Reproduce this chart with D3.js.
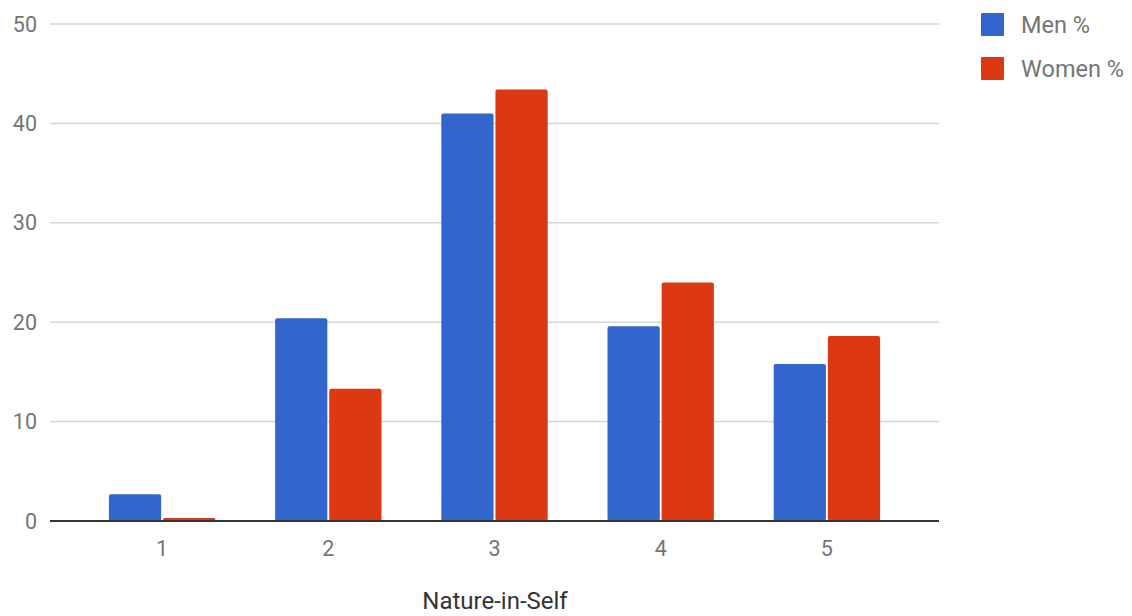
<!DOCTYPE html>
<html>
<head>
<meta charset="utf-8">
<script src="https://cdn.jsdelivr.net/npm/d3@7"></script>
<style>
  html, body { margin: 0; padding: 0; background: #fff; }
  svg { display: block; font-family: Roboto, Arial, sans-serif; }
</style>
</head>
<body>
<svg id="chart" width="1132" height="616"></svg>
<script>
// Nature-in-Self score distribution by gender
const categories = ["1", "2", "3", "4", "5"];
const seriesNames = ["Men %", "Women %"];
const menValues = [2.7, 20.4, 41.0, 19.6, 15.8];
const womenValues = [0.3, 13.3, 43.4, 24.0, 18.6];
const yTicks = [0, 10, 20, 30, 40, 50];
const axisTitle = "Nature-in-Self";
const colors = ["#3366cc", "#dc3912"];

const rows = categories.map((c, i) => ({ cat: c, values: [menValues[i], womenValues[i]] }));

const svg = d3.select("#chart");

const plotLeft = 50, plotRight = 939, plotTop = 24, plotBottom = 521;

const x0 = d3.scaleBand()
  .domain(categories)
  .range([79, 910])
  .paddingInner(0.36)
  .paddingOuter(0.18);

const x1 = d3.scaleBand()
  .domain([0, 1])
  .range([0, x0.bandwidth()])
  .paddingInner(0.035);

const y = d3.scaleLinear().domain([0, 50]).range([plotBottom, plotTop]);

// gridlines
svg.append("g")
  .selectAll("line")
  .data(yTicks.filter(t => t !== 0))
  .join("line")
  .attr("x1", plotLeft).attr("x2", plotRight)
  .attr("y1", d => y(d)).attr("y2", d => y(d))
  .attr("stroke", "#d6d6d6")
  .attr("stroke-width", 1.5);

// y tick labels
svg.append("g")
  .selectAll("text")
  .data(yTicks)
  .join("text")
  .attr("x", 37)
  .attr("y", d => y(d))
  .attr("dy", "0.35em")
  .attr("text-anchor", "end")
  .attr("fill", "#757575")
  .style("font-size", "21.5px")
  .text(d => d);

// bars
const groups = svg.append("g")
  .selectAll("g")
  .data(rows)
  .join("g")
  .attr("transform", d => `translate(${x0(d.cat)},0)`);

groups.selectAll("rect")
  .data(d => d.values.map((v, i) => ({ v, i })))
  .join("rect")
  .attr("x", d => x1(d.i))
  .attr("width", x1.bandwidth())
  .attr("y", d => y(d.v))
  .attr("height", d => y(0) - y(d.v))
  .attr("rx", 2).attr("ry", 2)
  .attr("fill", d => colors[d.i]);

// baseline
svg.append("line")
  .attr("x1", plotLeft).attr("x2", plotRight)
  .attr("y1", y(0)).attr("y2", y(0))
  .attr("stroke", "#333")
  .attr("stroke-width", 2);

// category labels
svg.append("g")
  .selectAll("text")
  .data(categories)
  .join("text")
  .attr("x", d => x0(d) + x0.bandwidth() / 2)
  .attr("y", 548)
  .attr("dy", "0.35em")
  .attr("text-anchor", "middle")
  .attr("fill", "#757575")
  .style("font-size", "21.5px")
  .text(d => d);

// axis title
svg.append("text")
  .attr("x", 495)
  .attr("y", 609)
  .attr("text-anchor", "middle")
  .attr("fill", "#333")
  .style("font-size", "24px")
  .text(axisTitle);

// legend
const legend = svg.append("g")
  .selectAll("g")
  .data(seriesNames)
  .join("g")
  .attr("transform", (d, i) => `translate(981,${13 + i * 44})`);

legend.append("rect")
  .attr("width", 23).attr("height", 23)
  .attr("rx", 1)
  .attr("fill", (d, i) => colors[i]);

legend.append("text")
  .attr("x", 40)
  .attr("y", 11.5)
  .attr("dy", "0.35em")
  .attr("fill", "#757575")
  .style("font-size", "23.5px")
  .text(d => d);
</script>
</body>
</html>
